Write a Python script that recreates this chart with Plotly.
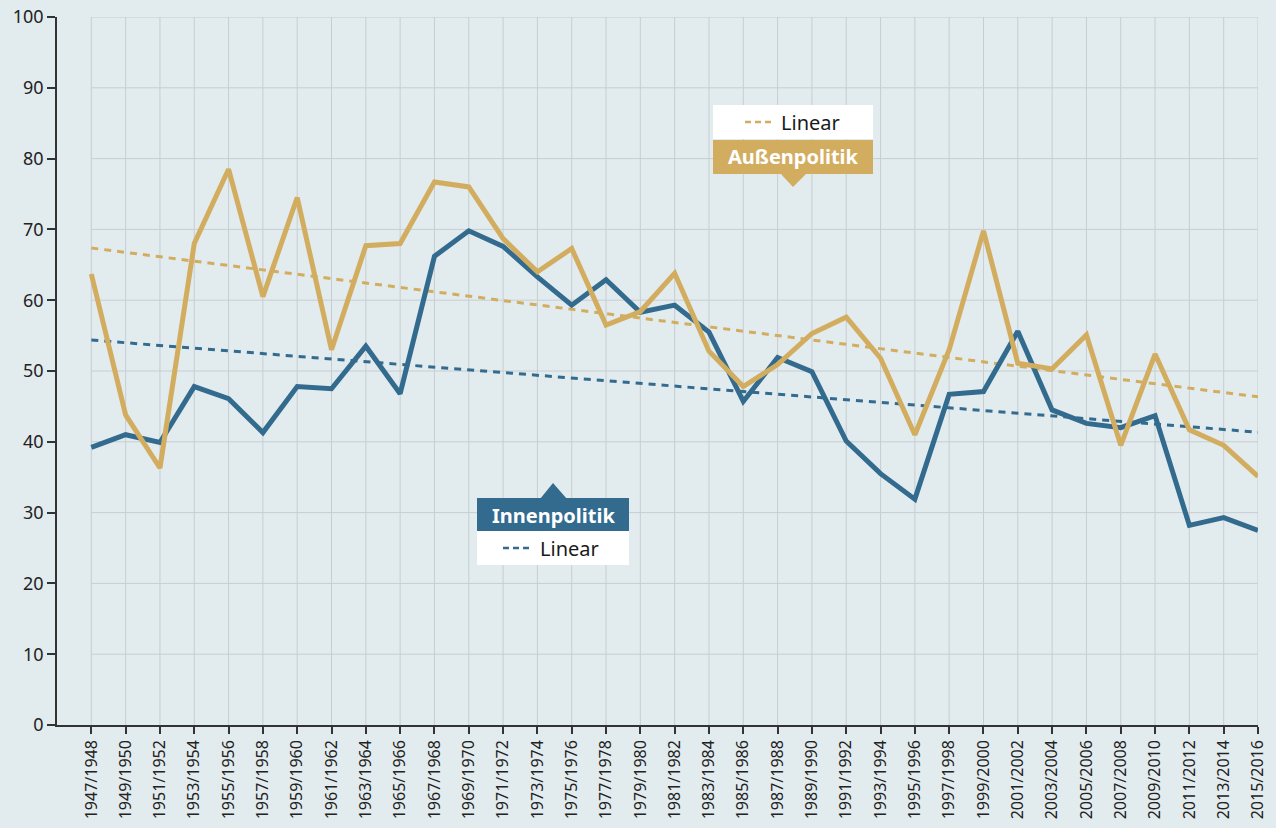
import numpy as np
import plotly.graph_objects as go

periods = ["1947/1948", "1949/1950", "1951/1952", "1953/1954", "1955/1956", "1957/1958",
           "1959/1960", "1961/1962", "1963/1964", "1965/1966", "1967/1968", "1969/1970",
           "1971/1972", "1973/1974", "1975/1976", "1977/1978", "1979/1980", "1981/1982",
           "1983/1984", "1985/1986", "1987/1988", "1989/1990", "1991/1992", "1993/1994",
           "1995/1996", "1997/1998", "1999/2000", "2001/2002", "2003/2004", "2005/2006",
           "2007/2008", "2009/2010", "2011/2012", "2013/2014", "2015/2016"]

innenpolitik = [39.2, 41.0, 39.9, 47.8, 46.1, 41.3, 47.8, 47.5, 53.5, 46.8, 66.2, 69.8,
                67.6, 63.3, 59.3, 62.9, 58.3, 59.3, 55.5, 45.7, 51.9, 49.9, 40.1, 35.5,
                31.9, 46.7, 47.1, 55.6, 44.5, 42.6, 42.0, 43.7, 28.2, 29.3, 27.5]

aussenpolitik = [63.7, 43.8, 36.3, 68.0, 78.5, 60.5, 74.5, 53.0, 67.7, 68.0, 76.7, 76.0,
                 68.7, 64.0, 67.3, 56.5, 58.4, 63.8, 52.8, 47.8, 50.9, 55.3, 57.6, 51.8,
                 41.0, 53.0, 69.8, 51.1, 50.3, 55.1, 39.5, 52.4, 41.7, 39.5, 35.1]

y_ticks = [0, 10, 20, 30, 40, 50, 60, 70, 80, 90, 100]

GOLD = "#d3ad5f"
BLUE = "#336b8f"
BG = "#e2ebee"
GRID = "#c7ced2"
FONT = "Noto Sans"

x = np.arange(len(periods))


def trend(vals):
    k, d = np.polyfit(x, np.array(vals), 1)
    return k * x + d


fig = go.Figure()
fig.add_trace(go.Scatter(x=x, y=trend(innenpolitik), mode="lines",
                         line=dict(color=BLUE, width=3, dash="7px,6px"), hoverinfo="skip"))
fig.add_trace(go.Scatter(x=x, y=trend(aussenpolitik), mode="lines",
                         line=dict(color=GOLD, width=3, dash="7px,6px"), hoverinfo="skip"))
fig.add_trace(go.Scatter(x=x, y=innenpolitik, mode="lines", name="Innenpolitik",
                         line=dict(color=BLUE, width=5)))
fig.add_trace(go.Scatter(x=x, y=aussenpolitik, mode="lines", name="Außenpolitik",
                         line=dict(color=GOLD, width=5)))

shapes = []
# gridlines
for v in y_ticks[1:]:
    shapes.append(dict(type="line", xref="x", yref="y", x0=x[0], x1=x[-1], y0=v, y1=v,
                       line=dict(color=GRID, width=1), layer="below"))
for xi in x:
    shapes.append(dict(type="line", xref="x", yref="y", x0=xi, x1=xi, y0=0, y1=y_ticks[-1],
                       line=dict(color=GRID, width=1), layer="below"))

# pixel -> paper helpers
L, R, T, B = 57, 1258, 17, 725


def px(v):
    return (v - L) / (R - L)


def py(v):
    return (B - v) / (B - T)


def rect(x0, y0, x1, y1, color):
    return dict(type="rect", xref="paper", yref="paper", x0=px(x0), x1=px(x1),
                y0=py(y1), y1=py(y0), fillcolor=color, line=dict(width=0), layer="above")


def tri(xa, xb, yb, xc, yc, color):
    path = "M {} {} L {} {} L {} {} Z".format(px(xa), py(yb), px(xb), py(yb), px(xc), py(yc))
    return dict(type="path", xref="paper", yref="paper", path=path,
                fillcolor=color, line=dict(width=0), layer="above")


def dash(x0, x1, y, color):
    return dict(type="line", xref="paper", yref="paper", x0=px(x0), x1=px(x1),
                y0=py(y), y1=py(y), line=dict(color=color, width=2.5, dash="6px,4px"), layer="above")


# Außenpolitik label
shapes.append(rect(713, 105, 873, 139, "white"))
shapes.append(dash(745, 773, 122, GOLD))
shapes.append(rect(713, 140, 873, 174, GOLD))
shapes.append(tri(780, 807, 173, 793, 187, GOLD))
# Innenpolitik label
shapes.append(rect(477, 498, 629, 531, BLUE))
shapes.append(tri(540, 567, 499, 553, 483, BLUE))
shapes.append(rect(477, 531, 629, 565, "white"))
shapes.append(dash(503, 531, 548, BLUE))

annotations = [
    dict(xref="paper", yref="paper", x=px(779), y=py(122), xanchor="left", yanchor="middle",
         text="Linear", showarrow=False, font=dict(family=FONT, size=20, color="#1a1a1a")),
    dict(xref="paper", yref="paper", x=px(793), y=py(157), xanchor="center", yanchor="middle",
         text="<b>Außenpolitik</b>", showarrow=False, font=dict(family=FONT, size=20, color="white")),
    dict(xref="paper", yref="paper", x=px(553), y=py(515), xanchor="center", yanchor="middle",
         text="<b>Innenpolitik</b>", showarrow=False, font=dict(family=FONT, size=20, color="white")),
    dict(xref="paper", yref="paper", x=px(538), y=py(548), xanchor="left", yanchor="middle",
         text="Linear", showarrow=False, font=dict(family=FONT, size=20, color="#1a1a1a")),
]

fig.update_layout(
    width=1276, height=828,
    margin=dict(l=L, r=1276 - R, t=T, b=828 - B),
    paper_bgcolor=BG, plot_bgcolor=BG,
    showlegend=False,
    shapes=shapes, annotations=annotations,
    font=dict(family=FONT, color="#222222"),
    xaxis=dict(range=[-1, len(periods) - 1], tickmode="array", tickvals=x, ticktext=periods,
               tickangle=-90, showgrid=False, zeroline=False, showline=True, linecolor="#333333",
               linewidth=1.5, ticks="outside", ticklen=7, tickcolor="#333333", tickwidth=1.5,
               automargin=False, tickfont=dict(family=FONT, size=16, color="#222222")),
    yaxis=dict(range=[0, 100], tickmode="array", tickvals=y_ticks, showgrid=False, zeroline=False,
               showline=True, linecolor="#333333", linewidth=1.5, ticks="outside", ticklen=8,
               tickcolor="#333333", tickwidth=1.5, automargin=False,
               tickfont=dict(family=FONT, size=18, color="#222222")),
)

fig.write_html("out.html", config={"displayModeBar": False},
               post_script="document.body.style.margin='0';document.body.style.padding='0';")
